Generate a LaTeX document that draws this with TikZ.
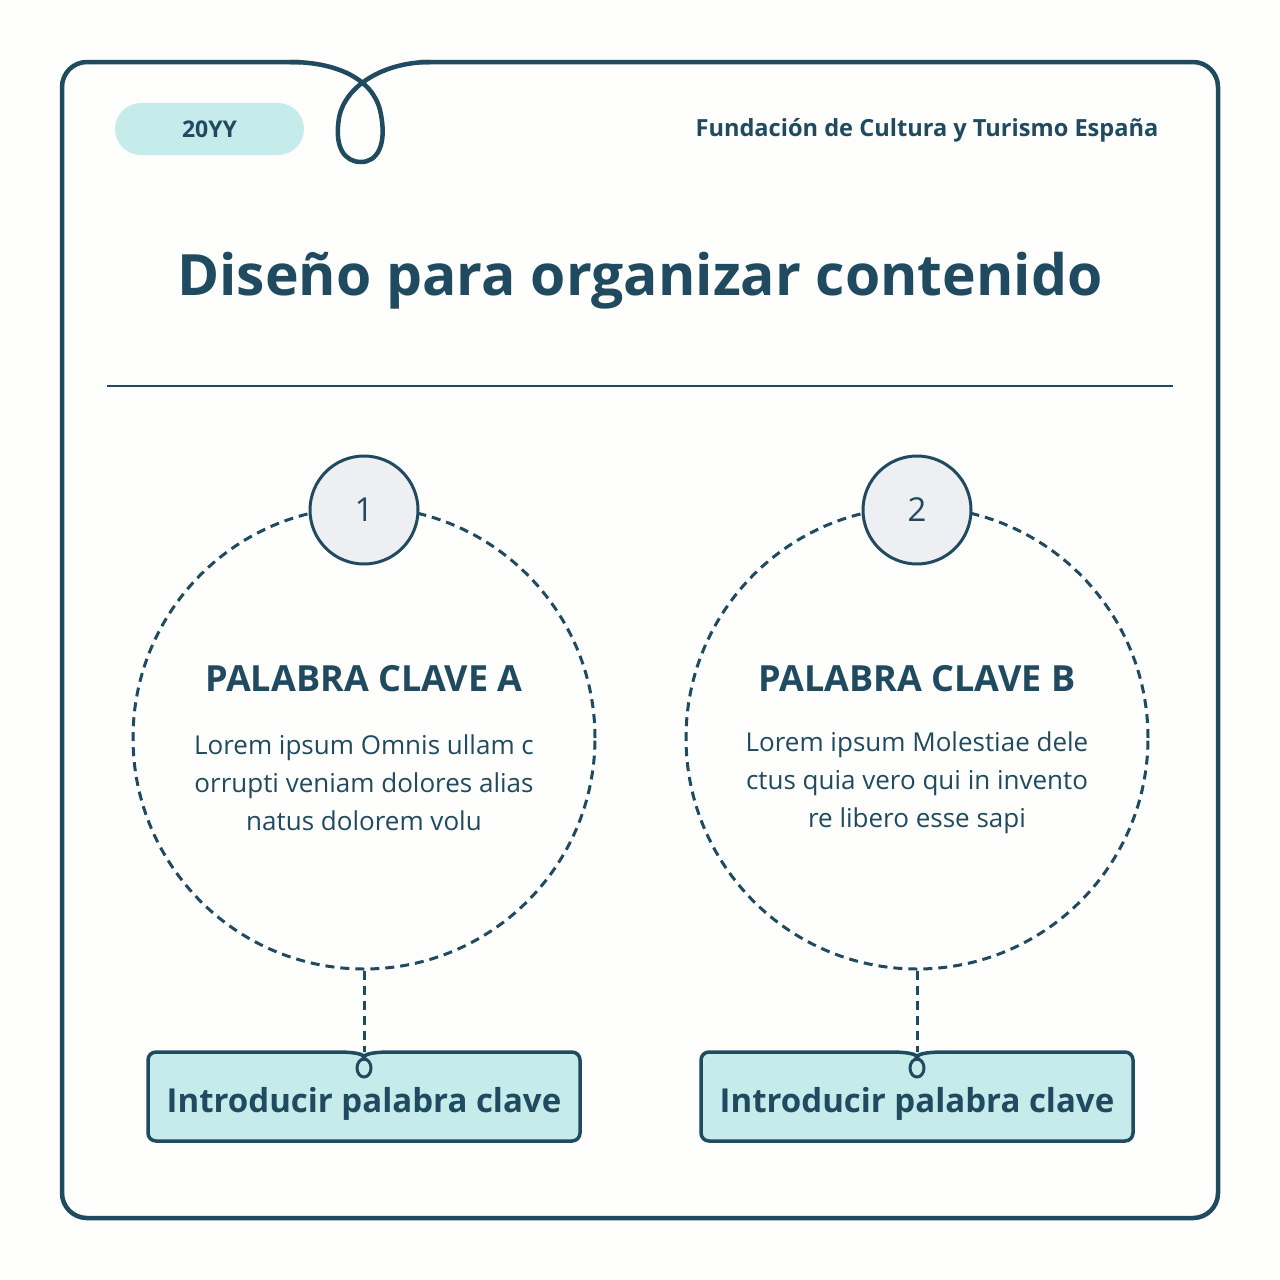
\documentclass[tikz,border=0pt]{standalone}
\usepackage{fontspec}
\setmainfont{Open Sans}
\definecolor{ink}{HTML}{1F4A5F}
\definecolor{mint}{HTML}{C5ECEA}
\definecolor{numfill}{HTML}{EEEFF2}
\definecolor{bg}{HTML}{FEFEFC}
\tikzset{
  frame/.style={draw=ink,line width=4.5pt,line join=round},
  dashc/.style={draw=ink,line width=3pt,dash pattern=on 9pt off 6pt},
  numc/.style={circle,draw=ink,line width=3pt,fill=numfill,minimum size=108pt,inner sep=0pt,font=\fontsize{33}{38}\selectfont,text=ink},
  head/.style={font=\fontsize{36}{40}\selectfont\bfseries,text=ink},
  body/.style={font=\fontsize{26}{38}\selectfont,text=ink,align=center},
  boxtxt/.style={font=\fontsize{33}{40}\selectfont\bfseries,text=ink}
}
\begin{document}
\begin{tikzpicture}[x=1pt,y=-1pt]
\fill[bg] (0,0) rectangle (1280,1280);
\useasboundingbox (0,0) rectangle (1280,1280);
% frame with loop
\draw[frame,rounded corners=25pt] (420,62) -- (1218,62) -- (1218,1218) -- (62,1218) -- (62,62) -- (300,62);
\draw[frame] (290,62)
  .. controls (335,62) and (372,78) .. (380,110)
  .. controls (388,145) and (377,162) .. (361,162)
  .. controls (345,162) and (334,148) .. (339,118)
  .. controls (345,85) and (385,62) .. (430,62);
\node[fill=mint,rounded corners=26pt,minimum width=189pt,minimum height=52pt,inner sep=0pt,
  font=\fontsize{23}{28}\selectfont\bfseries,text=ink] (yy) at (209.5,129) {20YY};
\node[anchor=east,font=\fontsize{23.6}{28}\selectfont\bfseries,text=ink] (org) at (1162,130) {Fundación de Cultura y Turismo España};
\node[font=\fontsize{57}{70}\selectfont\bfseries,text=ink] (title) at (640,281) {Diseño para organizar contenido};
\draw[ink,line width=2pt] (107,386) coordinate (l1) -- (1173,386) coordinate (l2);
\foreach \cx/\n/\h/\ba/\bb/\bc in {364/1/A/{Lorem ipsum Omnis ullam c}/{orrupti veniam dolores alias}/{natus dolorem volu},
                              917/2/B/{Lorem ipsum Molestiae dele}/{ctus quia vero qui in invento}/{re libero esse sapi}}{
  \node[circle,dashc,minimum size=462pt,inner sep=0pt] (big\n) at (\cx,738) {};
  \node[numc] (num\n) at (\cx,510) {\n};
  \node[head] (h\n) at (\cx,679) {PALABRA CLAVE \h};
  \node[body] (b\n) at (\cx,783) {\ba\\\bb\\\bc};
  \coordinate (top\n) at (\cx,1058);
  \draw[dashc] (big\n.south) -- (top\n);
  \fill[mint,rounded corners=8pt] (\cx-216,1052) rectangle (\cx+216,1141);
  \draw[ink,line width=3.5pt,rounded corners=8pt] (\cx-28,1052) -- (\cx-216,1052) -- (\cx-216,1141) -- (\cx+216,1141) -- (\cx+216,1052) -- (\cx+28,1052);
  \draw[ink,line width=3.5pt] (\cx-28,1052) .. controls (\cx-8,1052) and (\cx,1054) .. (top\n) .. controls (\cx,1054) and (\cx+8,1052) .. (\cx+28,1052);
  \draw[ink,line width=3pt] (\cx,1068) ellipse[x radius=7,y radius=9];
  \node[boxtxt] (bt\n) at (\cx,1104) {Introducir palabra clave};
}
\end{tikzpicture}
\end{document}
